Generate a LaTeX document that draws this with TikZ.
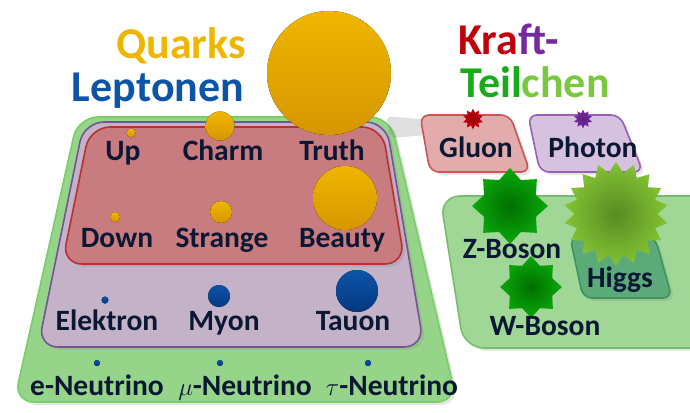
\documentclass[tikz,border=0pt]{standalone}
\usepackage{fontspec}
\setmainfont{Carlito}
\usetikzlibrary{shapes.geometric}
\usetikzlibrary{shadows}

\definecolor{labelnavy}{RGB}{10,24,52}
\definecolor{quarkgold}{RGB}{238,182,0}
\definecolor{quarkgolddark}{RGB}{214,150,0}
\definecolor{leptonblue}{RGB}{12,84,168}
\definecolor{leptonbluedark}{RGB}{4,56,128}
\definecolor{kraftred}{RGB}{192,0,10}
\definecolor{kraftpurple}{RGB}{118,42,160}
\definecolor{teilgreen}{RGB}{24,172,24}
\definecolor{teillight}{RGB}{122,200,64}
\definecolor{neutrinofill}{RGB}{150,212,138}
\definecolor{neutrinorim}{RGB}{122,206,104}
\definecolor{leptonfill}{RGB}{196,178,200}
\definecolor{leptonrim}{RGB}{118,84,146}
\definecolor{quarkfill}{RGB}{200,124,128}
\definecolor{quarkrim}{RGB}{186,48,48}
\definecolor{gluonfill}{RGB}{226,172,172}
\definecolor{gluonrim}{RGB}{204,84,84}
\definecolor{photonfill}{RGB}{214,194,222}
\definecolor{photonrim}{RGB}{150,96,182}
\definecolor{bosonfill}{RGB}{160,214,150}
\definecolor{bosonrim}{RGB}{118,190,108}
\definecolor{higgsfill}{RGB}{92,170,122}
\definecolor{higgsrim}{RGB}{60,150,92}

\begin{document}
\begin{tikzpicture}[x=1pt,y=1pt,yscale=-1,xscale=1,
  title/.style={font=\fontsize{44}{46}\selectfont\bfseries, anchor=base, inner sep=0pt},
  particle/.style={font=\fontsize{29.5}{31}\selectfont\bfseries, text=labelnavy, anchor=base, inner sep=0pt},
  panel/.style={rounded corners=20pt, line width=1.6pt, drop shadow={opacity=0.2, shadow xshift=3pt, shadow yshift=-3pt}},
  smallpanel/.style={panel, rounded corners=9pt},
  quark/.style={shading=axis, top color=quarkgold, bottom color=quarkgolddark},
  lepton/.style={shading=axis, top color=leptonblue, bottom color=leptonbluedark},
  boson/.style={star, inner sep=0pt, shading=radial}]
\path[use as bounding box] (0,0) rectangle (690,412);
\clip (0,0) rectangle (690,412);

%Shape: neutrino panel
\draw [panel, draw=neutrinorim, fill=neutrinofill] (78,117) -- (390,117) -- (457,402) -- (14,402) -- cycle;
%Shape: lepton panel
\draw [panel, draw=leptonrim, fill=leptonfill] (84,122) -- (386,122) -- (424,347) -- (38,347) -- cycle;
%Shape: quark panel
\draw [panel, draw=quarkrim, fill=quarkfill] (90,127) -- (382,127) -- (405,264) -- (62,264) -- cycle;

%Shape: shadow behind the top sphere
\fill [gray, opacity=0.25, rounded corners=6pt] (386,116) -- (440,121) -- (440,134) -- (390,138) -- cycle;

%Shape: gluon and photon panels
\draw [smallpanel, draw=gluonrim, fill=gluonfill] (420,115) -- (510,115) -- (530,172) -- (430,172) -- cycle;
\draw [smallpanel, draw=photonrim, fill=photonfill] (528,115) -- (620,115) -- (643,172) -- (540,172) -- cycle;
%Shape: boson panel
\draw [panel, draw=bosonrim, fill=bosonfill] (440,196) -- (710,196) -- (740,348) -- (464,348) -- cycle;
%Shape: higgs panel
\draw [smallpanel, draw=higgsrim, fill=higgsfill] (570,237) -- (655,237) -- (672,298) -- (583,298) -- cycle;

%Spheres: quarks
\fill [quark] (131,133) circle (4.5);
\fill [quark] (220,126) circle (14.5);
\fill [quark] (329,73) circle (62);
\fill [quark] (115,217) circle (5);
\fill [quark] (221,212) circle (11);
\fill [quark] (345,198) circle (32);
%Spheres: leptons
\fill [lepton] (105,300) circle (3.5);
\fill [lepton] (219,296) circle (11);
\fill [lepton] (357,291) circle (21);
\foreach \nx in {97,220,368}
  \fill [lepton] (\nx,363) circle (3);

%Stars: force carriers
\node [boson, star points=10, star point ratio=1.6, minimum size=21pt, inner color=kraftred!80!black, outer color=kraftred] (gluonstar) at (473,119) {};
\node [boson, star points=10, star point ratio=1.6, minimum size=19pt, inner color=kraftpurple!80!black, outer color=kraftpurple] (photonstar) at (583,119) {};
\node [boson, star points=8, star point ratio=1.35, minimum size=76pt, inner color={rgb,255:red,0;green,110;blue,0}, outer color={rgb,255:red,10;green,168;blue,10}] (zstar) at (510,206) {};
\node [boson, star points=8, star point ratio=1.35, minimum size=62pt, inner color={rgb,255:red,0;green,110;blue,0}, outer color={rgb,255:red,10;green,168;blue,10}] (wstar) at (531,287) {};
\node [boson, star points=18, star point ratio=1.25, minimum size=104pt, inner color={rgb,255:red,86;green,140;blue,34}, outer color={rgb,255:red,132;green,194;blue,52}] (higgsstar) at (616,214) {};

% Text Node
\node [title, text=quarkgold] (quarks) at (181,59) {Quarks};
% Text Node
\node [title, text=leptonblue] (leptonen) at (158,101) {Leptonen};
% Text Node
\node [title, anchor=base west] (kraft) at (458,55) {\textcolor{kraftred}{Kra}\textcolor{kraftpurple}{ft-}};
% Text Node
\node [title, anchor=base west] (teilchen) at (460,97) {\textcolor{teilgreen}{Teil}\textcolor{teillight}{chen}};

% Text Node
\node [particle] (up) at (123,160) {Up};
\node [particle] (charm) at (223,160) {Charm};
\node [particle] (truth) at (332,160) {Truth};
\node [particle] (down) at (117,247) {Down};
\node [particle] (strange) at (222,247) {Strange};
\node [particle] (beauty) at (342,247) {Beauty};
\node [particle] (elektron) at (107,330) {Elektron};
\node [particle] (myon) at (224,330) {Myon};
\node [particle] (tauon) at (353,330) {Tauon};
\node [particle] (eneutrino) at (97,395) {e-Neutrino};
\node [particle] (muneutrino) at (245,395) {$\mu$-Neutrino};
\node [particle] (tauneutrino) at (392,395) {$\tau$-Neutrino};
\node [particle] (gluon) at (476,157) {Gluon};
\node [particle] (photon) at (593,157) {Photon};
\node [particle] (zboson) at (512,258) {Z-Boson};
\node [particle] (higgs) at (620,287) {Higgs};
\node [particle] (wboson) at (545,335) {W-Boson};

\end{tikzpicture}
\end{document}
